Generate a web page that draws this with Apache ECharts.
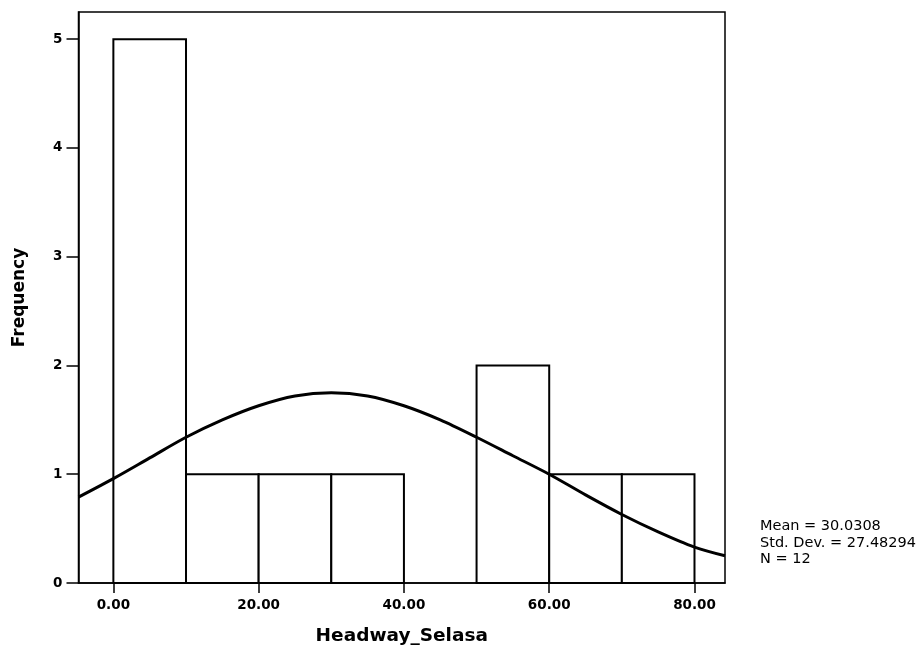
<!DOCTYPE html>
<html>
<head>
<meta charset="utf-8">
<script src="https://cdn.jsdelivr.net/npm/echarts@6/dist/echarts.min.js"></script>
<style>html,body{margin:0;padding:0;background:#fff;}#c{width:920px;height:651px;}</style>
</head>
<body>
<div id="c"></div>
<script>
// Histogram bins (lower edge) and frequencies
const binStart = [0, 10, 20, 30, 40, 50, 60, 70];
const binWidth = 10;
const counts = [5, 1, 1, 1, 0, 2, 1, 1];
// Normal curve
const curveX = [-4.8, 0, 5, 10, 15, 20, 25, 30, 35, 40, 45, 50, 55, 60, 65, 70, 75, 80, 84.2];
const curveY = [0.79, 0.96, 1.15, 1.34, 1.50, 1.63, 1.72, 1.75, 1.72, 1.63, 1.50, 1.34, 1.17, 1.00, 0.81, 0.63, 0.47, 0.33, 0.25];
// Axis ticks
const xTicks = [0, 20, 40, 60, 80];
const yTicks = [0, 1, 2, 3, 4, 5];
const statsLines = ['Mean = 30.0308', 'Std. Dev. = 27.48294', 'N = 12'];

const chart = echarts.init(document.getElementById('c'), null, {renderer: 'canvas'});
const barData = binStart.map((s, i) => [s, s + binWidth, counts[i]]).filter(d => d[2] > 0);
const lineData = curveX.map((x, i) => [x, curveY[i]]);

chart.setOption({
  animation: false,
  backgroundColor: '#fff',
  grid: {left: 78.5, right: 195, top: 12, bottom: 64.5, show: true, borderColor: '#000', borderWidth: 1.5, backgroundColor: 'transparent'},
  xAxis: {
    type: 'value', min: -4.8, max: 84.2,
    name: 'Headway_Selasa', nameLocation: 'middle', nameGap: 44,
    nameTextStyle: {fontFamily: 'DejaVu Sans', fontWeight: 'bold', fontSize: 18.5, color: '#000'},
    axisLine: {show: true, onZero: false, lineStyle: {color: '#000', width: 1.5}},
    axisTick: {show: true, length: 10, lineStyle: {color: '#000', width: 1.5}, customValues: xTicks},
    axisLabel: {show: true, margin: 15, fontFamily: 'DejaVu Sans', fontWeight: 'bold', fontSize: 13.5, color: '#000',
      formatter: v => v.toFixed(2), customValues: xTicks},
    splitLine: {show: false}
  },
  yAxis: {
    type: 'value', min: 0, max: 5.25,
    name: 'Frequency', nameLocation: 'middle', nameGap: 50,
    nameTextStyle: {fontFamily: 'DejaVu Sans', fontWeight: 'bold', fontSize: 17, color: '#000'},
    axisLine: {show: true, onZero: false, lineStyle: {color: '#000', width: 1.5}},
    axisTick: {show: true, length: 12, lineStyle: {color: '#000', width: 1.5}, customValues: yTicks},
    axisLabel: {show: true, margin: 16, fontFamily: 'DejaVu Sans', fontWeight: 'bold', fontSize: 13.5, color: '#000', customValues: yTicks},
    splitLine: {show: false}
  },
  series: [
    {
      type: 'custom',
      data: barData,
      encode: {x: [0, 1], y: 2},
      renderItem: function (params, api) {
        const p0 = api.coord([api.value(0), 0]);
        const p1 = api.coord([api.value(1), api.value(2)]);
        return {
          type: 'rect',
          shape: {x: p0[0], y: p1[1], width: p1[0] - p0[0], height: p0[1] - p1[1]},
          style: {fill: '#fff', stroke: '#000', lineWidth: 2}
        };
      },
      z: 2
    },
    {
      type: 'line',
      data: lineData,
      smooth: 0.3,
      showSymbol: false,
      lineStyle: {color: '#000', width: 3},
      z: 3
    }
  ],
  graphic: [{
    type: 'text', left: 760, top: 518,
    style: {text: statsLines.join('\n'), fontFamily: 'DejaVu Sans', fontSize: 14.5, lineHeight: 16.5, fill: '#000'}
  }]
});
</script>
</body>
</html>
